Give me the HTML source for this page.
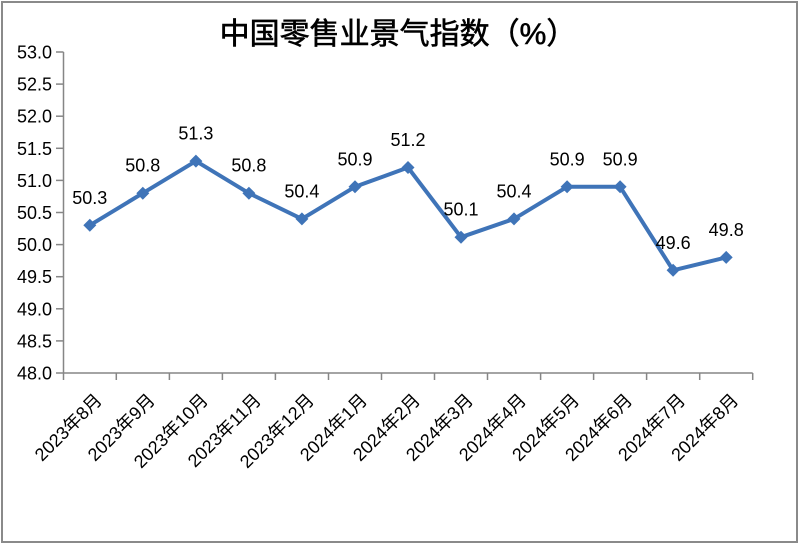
<!DOCTYPE html>
<html><head><meta charset="utf-8"><style>
html,body{margin:0;padding:0;background:#fff;}
svg{display:block;}
text{font-family:"Liberation Sans","Noto Sans CJK SC",sans-serif;fill:#000;}
</style></head><body>
<svg width="800" height="544" viewBox="0 0 800 544" xmlns="http://www.w3.org/2000/svg">
<rect x="0" y="0" width="800" height="544" fill="#fff"/>
<rect x="2" y="2" width="795" height="540" fill="none" stroke="#8a8a8a" stroke-width="2"/>
<text x="398" y="44" font-size="30" text-anchor="middle" stroke="#000" stroke-width="0.6">中国零售业景气指数（%）</text>
<g stroke="#868686" stroke-width="1.5" fill="none">
<line x1="63.5" y1="52" x2="63.5" y2="373"/>
<line x1="63.5" y1="373" x2="752.7" y2="373"/>
<line x1="56" y1="52" x2="63.5" y2="52"/>
<line x1="56" y1="84.1" x2="63.5" y2="84.1"/>
<line x1="56" y1="116.2" x2="63.5" y2="116.2"/>
<line x1="56" y1="148.3" x2="63.5" y2="148.3"/>
<line x1="56" y1="180.4" x2="63.5" y2="180.4"/>
<line x1="56" y1="212.5" x2="63.5" y2="212.5"/>
<line x1="56" y1="244.6" x2="63.5" y2="244.6"/>
<line x1="56" y1="276.7" x2="63.5" y2="276.7"/>
<line x1="56" y1="308.8" x2="63.5" y2="308.8"/>
<line x1="56" y1="340.9" x2="63.5" y2="340.9"/>
<line x1="56" y1="373" x2="63.5" y2="373"/>
<line x1="63.5" y1="373" x2="63.5" y2="380"/>
<line x1="116.3" y1="373" x2="116.3" y2="380"/>
<line x1="169.4" y1="373" x2="169.4" y2="380"/>
<line x1="222.4" y1="373" x2="222.4" y2="380"/>
<line x1="275.4" y1="373" x2="275.4" y2="380"/>
<line x1="328.5" y1="373" x2="328.5" y2="380"/>
<line x1="381.5" y1="373" x2="381.5" y2="380"/>
<line x1="434.5" y1="373" x2="434.5" y2="380"/>
<line x1="487.5" y1="373" x2="487.5" y2="380"/>
<line x1="540.6" y1="373" x2="540.6" y2="380"/>
<line x1="593.6" y1="373" x2="593.6" y2="380"/>
<line x1="646.6" y1="373" x2="646.6" y2="380"/>
<line x1="699.7" y1="373" x2="699.7" y2="380"/>
<line x1="752.7" y1="373" x2="752.7" y2="380"/>
</g>
<g font-size="18" text-anchor="end">
<text x="52" y="58.5">53.0</text>
<text x="52" y="90.6">52.5</text>
<text x="52" y="122.7">52.0</text>
<text x="52" y="154.8">51.5</text>
<text x="52" y="186.9">51.0</text>
<text x="52" y="219">50.5</text>
<text x="52" y="251.1">50.0</text>
<text x="52" y="283.2">49.5</text>
<text x="52" y="315.3">49.0</text>
<text x="52" y="347.4">48.5</text>
<text x="52" y="379.5">48.0</text>
</g>
<polyline fill="none" stroke="#3f74b8" stroke-width="4" stroke-linejoin="round"
points="89.8,225.3 142.8,193.2 195.9,161.1 248.9,193.2 301.9,218.9 355.0,186.8 408.0,167.5 461.0,237.2 514.0,218.9 567.1,186.8 620.1,186.8 673.1,270.3 726.2,257.4"/>
<g fill="#3f74b8">
<path d="M89.8,218.8 L96.3,225.3 L89.8,231.8 L83.3,225.3Z"/>
<path d="M142.8,186.7 L149.3,193.2 L142.8,199.7 L136.3,193.2Z"/>
<path d="M195.9,154.6 L202.4,161.1 L195.9,167.6 L189.4,161.1Z"/>
<path d="M248.9,186.7 L255.4,193.2 L248.9,199.7 L242.4,193.2Z"/>
<path d="M301.9,212.4 L308.4,218.9 L301.9,225.4 L295.4,218.9Z"/>
<path d="M355.0,180.3 L361.5,186.8 L355.0,193.3 L348.5,186.8Z"/>
<path d="M408.0,161.0 L414.5,167.5 L408.0,174.0 L401.5,167.5Z"/>
<path d="M461.0,230.7 L467.5,237.2 L461.0,243.7 L454.5,237.2Z"/>
<path d="M514.0,212.4 L520.5,218.9 L514.0,225.4 L507.5,218.9Z"/>
<path d="M567.1,180.3 L573.6,186.8 L567.1,193.3 L560.6,186.8Z"/>
<path d="M620.1,180.3 L626.6,186.8 L620.1,193.3 L613.6,186.8Z"/>
<path d="M673.1,263.8 L679.6,270.3 L673.1,276.8 L666.6,270.3Z"/>
<path d="M726.2,250.9 L732.7,257.4 L726.2,263.9 L719.7,257.4Z"/>
</g>
<g font-size="18" text-anchor="middle">
<text x="89.8" y="203.8">50.3</text>
<text x="142.8" y="171.7">50.8</text>
<text x="195.9" y="139.6">51.3</text>
<text x="248.9" y="171.7">50.8</text>
<text x="301.9" y="197.4">50.4</text>
<text x="355.0" y="165.3">50.9</text>
<text x="408.0" y="146">51.2</text>
<text x="461.0" y="215.7">50.1</text>
<text x="514.0" y="197.4">50.4</text>
<text x="567.1" y="165.3">50.9</text>
<text x="620.1" y="165.3">50.9</text>
<text x="673.1" y="248.8">49.6</text>
<text x="726.2" y="235.9">49.8</text>
</g>
<g font-size="18" text-anchor="end" dominant-baseline="central">
<text transform="translate(98.8,397) rotate(-45)">2023年8月</text>
<text transform="translate(151.8,397) rotate(-45)">2023年9月</text>
<text transform="translate(204.9,397) rotate(-45)">2023年10月</text>
<text transform="translate(257.9,397) rotate(-45)">2023年11月</text>
<text transform="translate(310.9,397) rotate(-45)">2023年12月</text>
<text transform="translate(364.0,397) rotate(-45)">2024年1月</text>
<text transform="translate(417.0,397) rotate(-45)">2024年2月</text>
<text transform="translate(470.0,397) rotate(-45)">2024年3月</text>
<text transform="translate(523.0,397) rotate(-45)">2024年4月</text>
<text transform="translate(576.1,397) rotate(-45)">2024年5月</text>
<text transform="translate(629.1,397) rotate(-45)">2024年6月</text>
<text transform="translate(682.1,397) rotate(-45)">2024年7月</text>
<text transform="translate(735.2,397) rotate(-45)">2024年8月</text>
</g>
</svg>
</body></html>
